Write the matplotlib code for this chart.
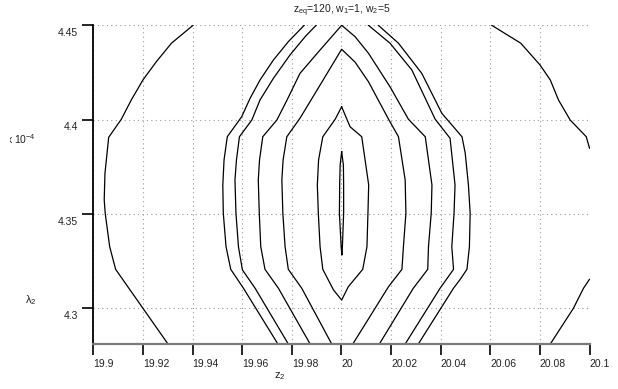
import matplotlib
matplotlib.use("Agg")
import matplotlib.pyplot as plt
from matplotlib.transforms import ScaledTranslation, Bbox

plt.rcParams['font.family'] = ['Liberation Sans', 'DejaVu Sans']
plt.rcParams['mathtext.default'] = 'regular'

# contour lines (z2, lambda2 in units of 1e-4)
A_z = [19.9402, 19.9315, 19.9254, 19.9200, 19.9153, 19.9113, 19.9062, 19.9047, 19.9044, 19.9048, 19.9066, 19.9090, 19.9301]
A_lam = [4.4500, 4.4405, 4.4307, 4.4210, 4.4104, 4.4002, 4.3906, 4.3715, 4.3574, 4.3503, 4.3326, 4.3206, 4.2810]

B_left_z = [19.9744, 19.9605, 19.9554, 19.9535, 19.9524, 19.9522, 19.9527, 19.9540, 19.9598, 19.9632, 19.9672, 19.9726, 19.9786, 19.9850]
B_left_lam = [4.2810, 4.3106, 4.3206, 4.3326, 4.3503, 4.3653, 4.3786, 4.3909, 4.4015, 4.4113, 4.4210, 4.4316, 4.4413, 4.4500]
B_right_z = [20.0149, 20.0230, 20.0324, 20.0405, 20.0486, 20.0499, 20.0512, 20.0519, 20.0516, 20.0506, 20.0479, 20.0452, 20.0310]
B_right_lam = [4.4500, 4.4405, 4.4245, 4.4033, 4.3909, 4.3823, 4.3653, 4.3503, 4.3326, 4.3206, 4.3153, 4.3106, 4.2810]

C_left_z = [19.9786, 19.9652, 19.9601, 19.9585, 19.9575, 19.9571, 19.9577, 19.9589, 19.9639, 19.9672, 19.9726, 19.9793, 19.9854, 19.9898]
C_left_lam = [4.2810, 4.3106, 4.3203, 4.3326, 4.3503, 4.3680, 4.3786, 4.3909, 4.3998, 4.4104, 4.4219, 4.4343, 4.4440, 4.4500]
C_right_z = [20.0109, 20.0196, 20.0284, 20.0378, 20.0438, 20.0458, 20.0454, 20.0445, 20.0452, 20.0398, 20.0257]
C_right_lam = [4.4500, 4.4405, 4.4263, 4.4002, 4.3901, 4.3653, 4.3503, 4.3326, 4.3206, 4.3106, 4.2810]

D_z = [19.9874, 19.9746, 19.9692, 19.9675, 19.9669, 19.9665, 19.9670, 19.9683, 19.9740, 19.9781, 19.9833, 19.9914,
       20.0001, 20.0055, 20.0109, 20.0196, 20.0270, 20.0338, 20.0365, 20.0362, 20.0351, 20.0348, 20.0290, 20.0153]
D_lam = [4.2810, 4.3106, 4.3206, 4.3326, 4.3503, 4.3680, 4.3786, 4.3909, 4.3998, 4.4104, 4.4245, 4.4369,
         4.4500, 4.4440, 4.4352, 4.4174, 4.4002, 4.3909, 4.3653, 4.3503, 4.3326, 4.3206, 4.3106, 4.2810]

E_z = [19.9961, 19.9840, 19.9786, 19.9773, 19.9764, 19.9760, 19.9765, 19.9780, 19.9833, 19.9914, 20.0001,
       20.0055, 20.0109, 20.0190, 20.0230, 20.0257, 20.0260, 20.0250, 20.0244, 20.0190, 20.0046]
E_lam = [4.2810, 4.3106, 4.3206, 4.3326, 4.3503, 4.3680, 4.3786, 4.3909, 4.4007, 4.4183, 4.4373,
         4.4305, 4.4201, 4.4002, 4.3909, 4.3680, 4.3503, 4.3326, 4.3206, 4.3114, 4.2810]

G_z = [20.0001, 20.0035, 20.0082, 20.0110, 20.0107, 20.0103, 20.0086, 20.0028, 20.0001, 19.9968, 19.9925,
       19.9914, 19.9907, 19.9903, 19.9908, 19.9925, 19.9975, 20.0001]
G_lam = [4.4068, 4.3962, 4.3909, 4.3653, 4.3503, 4.3326, 4.3206, 4.3114, 4.3043, 4.3097, 4.3206,
         4.3326, 4.3503, 4.3653, 4.3786, 4.3909, 4.4002, 4.4068]

F_z = [20.0001, 20.0008, 20.0009, 20.0009, 20.0004, 20.0002, 19.9999, 19.9992, 19.9993, 19.9995, 20.0001]
F_lam = [4.3830, 4.3759, 4.3653, 4.3503, 4.3326, 4.3282, 4.3326, 4.3503, 4.3653, 4.3759, 4.3830]

H_z = [20.0606, 20.0723, 20.0801, 20.0842, 20.0875, 20.0922, 20.0987, 20.1000]
H_lam = [4.4500, 4.4405, 4.4289, 4.4210, 4.4104, 4.3998, 4.3909, 4.3848]

I_z = [20.0842, 20.0935, 20.0976, 20.1000]
I_lam = [4.2810, 4.2999, 4.3106, 4.3153]

x_ticks = [19.9, 19.92, 19.94, 19.96, 19.98, 20.0, 20.02, 20.04, 20.06, 20.08, 20.1]
x_ticklabels = ['19.9', '19.92', '19.94', '19.96', '19.98', '20', '20.02', '20.04', '20.06', '20.08', '20.1']
y_ticks = [4.30, 4.35, 4.40, 4.45]
y_ticklabels = ['4.3', '4.35', '4.4', '4.45']

lines = [(A_z, A_lam), (B_left_z, B_left_lam), (B_right_z, B_right_lam),
         (C_left_z, C_left_lam), (C_right_z, C_right_lam), (D_z, D_lam),
         (E_z, E_lam), (G_z, G_lam), (F_z, F_lam), (H_z, H_lam), (I_z, I_lam)]

fig = plt.figure(figsize=(6.18, 3.89), dpi=100)
ax = fig.add_axes([93.3 / 618, 1 - 344 / 389, (589.5 - 93.3) / 618, (344 - 25.3) / 389])

for zs, ls in lines:
    ax.plot(zs, ls, color='black', lw=0.9)

ax.set_xlim(19.9, 20.1)
ax.set_ylim(4.281, 4.45)
ax.set_xticks(x_ticks)
ax.set_xticklabels(x_ticklabels)
ax.set_yticks(y_ticks)
ax.set_yticklabels(y_ticklabels)

ax.grid(True, linestyle=(0, (1, 3)), color='#9a9a9a', linewidth=0.8)
for s in ['top', 'right']:
    ax.spines[s].set_visible(False)
ax.spines['left'].set_color('black')
ax.spines['left'].set_linewidth(1.3)
ax.spines['bottom'].set_color('#7a7a7a')
ax.spines['bottom'].set_linewidth(1.6)

ax.tick_params(axis='both', direction='out', length=8, width=1.2, colors='black',
               labelsize=7.5, labelcolor='#222222')
ax.tick_params(axis='x', pad=3)
ax.tick_params(axis='y', pad=3)

for lab in ax.get_xticklabels():
    lab.set_horizontalalignment('left')
for lab in ax.get_yticklabels():
    lab.set_transform(lab.get_transform() + ScaledTranslation(0, -0.067, fig.dpi_scale_trans))

fig.text(341.4 / 618, 1 - 13 / 389, r'z$_{eq}$=120, w$_1$=1, w$_2$=5', ha='center', va='baseline',
         fontsize=7.5, color='#222222')
fig.text(280 / 618, 1 - 376 / 389, r'z$_2$', ha='center', va='center', fontsize=8, color='#222222')
fig.text(25 / 618, 1 - 300 / 389, r'$\lambda_2$', ha='left', va='center', fontsize=8, color='#222222')
exp_txt = fig.text(36 / 618, 1 - 139 / 389, r'x 10$^{-4}$', ha='right', va='center',
                   fontsize=7.5, color='#222222', clip_on=True)
exp_txt.set_clip_box(Bbox.from_extents(10, 0, 618, 389))

fig.savefig('out.png', dpi=100)
